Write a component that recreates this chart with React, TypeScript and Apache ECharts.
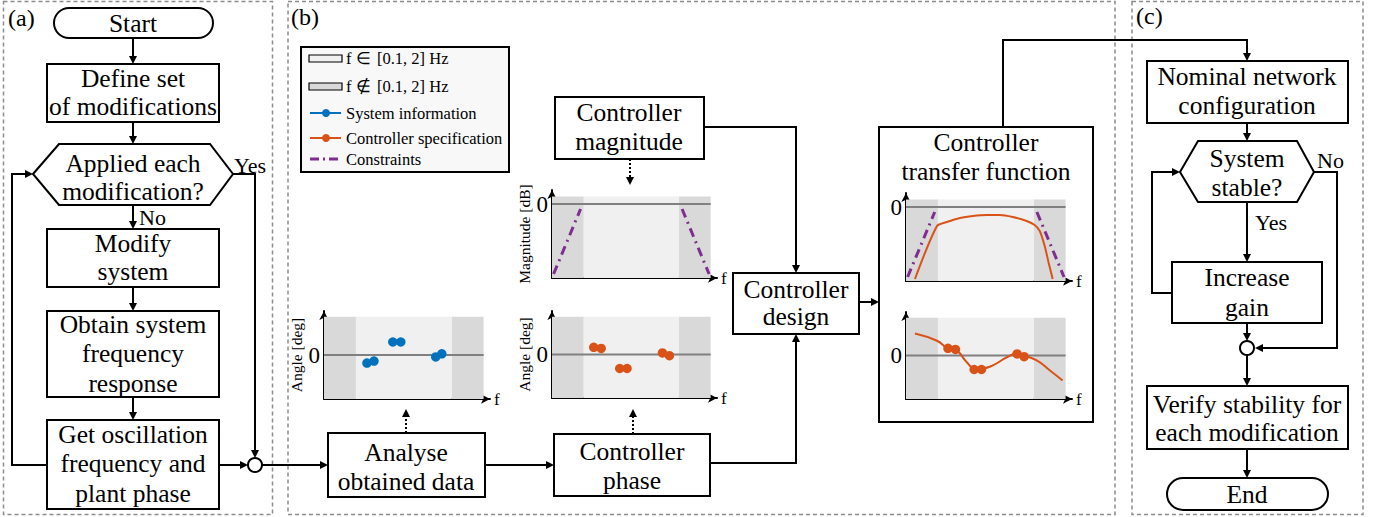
import React, { useEffect, useRef } from "react";
import * as echarts from "echarts";

const FONT = "Liberation Serif";

// Normalised frequency axis: outer bands lie outside [0.1, 2] Hz, inner band inside it.
const bandsOutside: [number, number][] = [
  [0, 2],
  [8, 10],
];
const bandInside: [number, number] = [2, 8];
const freqAxisMax = 10.4;

// Phase plots (angle, normalised)
const angleMin = -1.15;
const angleMax = 1.15;
const angleBandTop = 1.0;
// Magnitude plots (dB, normalised)
const magMin = -7.4;
const magMax = 1.4;
const magBandTop = 0.75;

// Measured plant phase at the oscillation frequencies
const systemInfoPoints: [number, number][] = [
  [2.69, -0.21],
  [3.13, -0.16],
  [4.31, 0.34],
  [4.81, 0.34],
  [7.0, -0.05],
  [7.38, 0.03],
];

// Required controller phase at the same frequencies
const controllerPhasePoints: [number, number][] = [
  [2.63, 0.19],
  [3.1, 0.16],
  [4.27, -0.37],
  [4.73, -0.37],
  [6.96, 0.04],
  [7.4, -0.03],
];

// Magnitude roll-off constraints outside the band
const constraintLow: [number, number][] = [
  [0.1, -7.0],
  [1.8, -0.5],
];
const constraintHigh: [number, number][] = [
  [8.2, -0.5],
  [9.9, -7.0],
];

// Designed controller transfer function
const tfMagnitude: [number, number][] = [
  [0.56, -7.2],
  [1.94, -1.9],
  [2.56, -1.5],
  [3.38, -1.1],
  [4.19, -0.9],
  [5.06, -0.8],
  [5.88, -0.8],
  [6.69, -1.0],
  [7.56, -1.4],
  [8.06, -1.8],
  [8.38, -2.4],
  [8.69, -3.9],
  [8.94, -5.6],
  [9.19, -7.2],
];
const tfPhase: [number, number][] = [
  [0.56, 0.58],
  [1.94, 0.39],
  [2.56, 0.21],
  [3.19, 0.13],
  [3.81, -0.18],
  [4.31, -0.34],
  [4.75, -0.34],
  [5.44, -0.26],
  [6.31, -0.05],
  [6.94, 0.05],
  [7.38, 0.0],
  [8.19, -0.13],
  [9.0, -0.39],
  [9.81, -0.66],
];

const BLUE = "#0072BD";
const ORANGE = "#D95319";
const PURPLE = "#7E2F8E";
const DARK = "#d9d9d9";
const LIGHT = "#f0f0f0";
const LW = 2;
const BOX_FONT = 25.5;
const LEGEND_FONT = 16.5;

type Pt = [number, number];

function box(x: number, y: number, w: number, h: number, r = 0, fill: string | null = "#fff") {
  return {
    type: "rect",
    shape: { x, y, width: w, height: h, r },
    style: { fill: fill === null ? "none" : fill, stroke: "#000", lineWidth: LW },
    z: 10,
  };
}

function label(text: string, x: number, y: number, size = BOX_FONT, align = "center") {
  return {
    type: "text",
    style: {
      text,
      x,
      y,
      fill: "#000",
      fontSize: size,
      fontFamily: FONT,
      textAlign: align,
      textVerticalAlign: "middle",
      align,
      verticalAlign: "middle",
    },
    z: 12,
  };
}

function wire(points: Pt[], dash?: number[]) {
  return {
    type: "polyline",
    shape: { points },
    style: { stroke: "#000", lineWidth: LW, fill: "none", lineDash: dash || null },
    z: 9,
  };
}

function head(x: number, y: number, dir: "up" | "down" | "left" | "right") {
  const L = 8;
  const W = 4;
  let pts: Pt[];
  if (dir === "down") pts = [[x, y], [x - W, y - L], [x + W, y - L]];
  else if (dir === "up") pts = [[x, y], [x - W, y + L], [x + W, y + L]];
  else if (dir === "right") pts = [[x, y], [x - L, y - W], [x - L, y + W]];
  else pts = [[x, y], [x + L, y - W], [x + L, y + W]];
  return { type: "polygon", shape: { points: pts }, style: { fill: "#000" }, z: 11 };
}

// wire ending in an arrowhead at the last point
function arrow(points: Pt[], dash?: number[]) {
  const n = points.length;
  const [tx, ty] = points[n - 1];
  const [px, py] = points[n - 2];
  let dir: "up" | "down" | "left" | "right";
  if (tx === px) dir = ty > py ? "down" : "up";
  else dir = tx > px ? "right" : "left";
  const back = 5;
  const end: Pt =
    dir === "down" ? [tx, ty - back] : dir === "up" ? [tx, ty + back] : dir === "right" ? [tx - back, ty] : [tx + back, ty];
  const pts = points.slice(0, n - 1).concat([end]);
  return [wire(pts, dash), head(tx, ty, dir)];
}

function node(cx: number, cy: number) {
  return {
    type: "circle",
    shape: { cx, cy, r: 7 },
    style: { fill: "#fff", stroke: "#000", lineWidth: LW },
    z: 10,
  };
}

function panel(x: number, y: number, w: number, h: number) {
  return {
    type: "rect",
    shape: { x, y, width: w, height: h },
    style: { fill: "none", stroke: "#8c8c8c", lineWidth: 1.5, lineDash: [4, 3] },
    z: 1,
  };
}

function bandAreas(bottom: number, top: number) {
  const areas: any[] = bandsOutside.map(([a, b]) => [
    { xAxis: a, yAxis: bottom, itemStyle: { color: DARK } },
    { xAxis: b, yAxis: top },
  ]);
  areas.push([
    { xAxis: bandInside[0], yAxis: bottom, itemStyle: { color: LIGHT } },
    { xAxis: bandInside[1], yAxis: top },
  ]);
  return areas;
}

function baseSeries(i: number, bottom: number, top: number) {
  const zeroLine: Pt[] = [
    [bandsOutside[0][0], 0],
    [bandsOutside[1][1], 0],
  ];
  return [
    {
      type: "line",
      xAxisIndex: i,
      yAxisIndex: i,
      data: zeroLine,
      symbol: "none",
      lineStyle: { width: 0, opacity: 0 },
      silent: true,
      z: 1,
      markArea: { silent: true, data: bandAreas(bottom, top) },
    },
    {
      type: "line",
      xAxisIndex: i,
      yAxisIndex: i,
      data: zeroLine,
      symbol: "none",
      lineStyle: { color: "#808080", width: 2 },
      silent: true,
      z: 2,
    },
  ];
}

function dots(i: number, data: Pt[], color: string) {
  return {
    type: "scatter",
    xAxisIndex: i,
    yAxisIndex: i,
    data,
    symbolSize: 9.5,
    itemStyle: { color, opacity: 1 },
    z: 4,
  };
}

function curve(i: number, data: Pt[], color: string, smooth: number | boolean) {
  return {
    type: "line",
    xAxisIndex: i,
    yAxisIndex: i,
    data,
    symbol: "none",
    smooth,
    lineStyle: { color, width: 2 },
    z: 3,
  };
}

function constraint(i: number, data: Pt[]) {
  return {
    type: "line",
    xAxisIndex: i,
    yAxisIndex: i,
    data,
    symbol: "none",
    lineStyle: { color: PURPLE, width: 3, type: [9, 5, 2, 5] },
    z: 3,
  };
}

const grids = [
  { left: 324, top: 311, width: 166, height: 88 }, // system information (angle)
  { left: 552, top: 190, width: 165, height: 88 }, // controller magnitude
  { left: 552, top: 311, width: 165, height: 87 }, // controller phase
  { left: 906, top: 193, width: 166, height: 88 }, // transfer function magnitude
  { left: 906, top: 312, width: 166, height: 87 }, // transfer function phase
];

const yNames = ["Angle [deg]", "Magnitude [dB]", "Angle [deg]", "", ""];
const yKinds = ["angle", "mag", "angle", "mag", "angle"];

function buildOption() {
  const xAxis = grids.map((_, i) => ({
    type: "value",
    gridIndex: i,
    min: 0,
    max: freqAxisMax,
    name: "f",
    nameLocation: "end",
    nameGap: 4,
    nameTextStyle: { fontFamily: FONT, fontSize: 17, color: "#000" },
    axisLine: {
      show: true,
      onZero: false,
      symbol: ["none", "arrow"],
      symbolSize: [7, 9],
      lineStyle: { color: "#000", width: 2 },
    },
    axisTick: { show: false },
    axisLabel: { show: false },
    splitLine: { show: false },
  }));
  const yAxis = grids.map((_, i) => {
    const ang = yKinds[i] === "angle";
    return {
      type: "value",
      gridIndex: i,
      min: ang ? angleMin : magMin,
      max: ang ? angleMax : magMax,
      name: yNames[i],
      nameLocation: "middle",
      nameRotate: 90,
      nameGap: 20,
      nameTextStyle: { fontFamily: FONT, fontSize: 15.5, color: "#000" },
      axisLine: {
        show: true,
        onZero: false,
        symbol: ["none", "arrow"],
        symbolSize: [7, 9],
        lineStyle: { color: "#000", width: 2 },
      },
      axisTick: { show: false },
      axisLabel: {
        show: true,
        customValues: [0],
        fontFamily: FONT,
        fontSize: 23,
        color: "#000",
        margin: 4,
      },
      splitLine: { show: false },
    };
  });

  const series: any[] = [];
  grids.forEach((_, i) => {
    const ang = yKinds[i] === "angle";
    series.push(...baseSeries(i, ang ? angleMin : magMin, ang ? angleBandTop : magBandTop));
  });
  series.push(dots(0, systemInfoPoints, BLUE));
  series.push(constraint(1, constraintLow), constraint(1, constraintHigh));
  series.push(dots(2, controllerPhasePoints, ORANGE));
  series.push(constraint(3, constraintLow), constraint(3, constraintHigh));
  series.push(curve(3, tfMagnitude, ORANGE, 0.25));
  series.push(curve(4, tfPhase, ORANGE, 0.5));
  series.push(dots(4, controllerPhasePoints, ORANGE));

  const el: any[] = [];
  // panels
  el.push(panel(3.5, 1.5, 269, 513), panel(288, 1.5, 827, 513), panel(1132, 1.5, 231, 513));
  el.push(label("(a)", 8, 18, 24, "left"), label("(b)", 291, 17, 24, "left"), label("(c)", 1136, 16, 24, "left"));

  // ---- (a) modification loop
  el.push(box(54, 8, 159, 30, 15), label("Start", 133, 23));
  el.push(...arrow([[133, 38], [133, 64]]));
  el.push(box(47, 64, 172, 58), label("Define set", 133, 78), label("of modifications", 133, 106));
  el.push(...arrow([[133, 122], [133, 144]]));
  el.push({
    type: "polygon",
    shape: { points: [[33, 174], [59, 144], [210, 144], [233, 174], [210, 205], [59, 205]] },
    style: { fill: "#fff", stroke: "#000", lineWidth: LW },
    z: 10,
  });
  el.push(label("Applied each", 133, 163), label("modification?", 133, 191));
  el.push(label("Yes", 234, 165, 22, "left"));
  el.push(...arrow([[133, 205], [133, 229]]));
  el.push(label("No", 139, 217, 22, "left"));
  el.push(box(47, 229, 172, 58), label("Modify", 133, 243), label("system", 133, 271));
  el.push(...arrow([[133, 287], [133, 311]]));
  el.push(
    box(47, 311, 172, 86),
    label("Obtain system", 133, 324),
    label("frequency", 133, 353),
    label("response", 133, 383)
  );
  el.push(...arrow([[133, 397], [133, 420]]));
  el.push(
    box(47, 420, 172, 89),
    label("Get oscillation", 133, 434),
    label("frequency and", 133, 463),
    label("plant phase", 133, 493)
  );
  el.push(...arrow([[47, 465], [12, 465], [12, 174], [33, 174]]));
  el.push(...arrow([[219, 465], [248, 465]]));
  el.push(...arrow([[233, 174], [255, 174], [255, 458]]));
  el.push(node(255, 465));
  el.push(...arrow([[262, 465], [328, 465]]));

  // ---- (b) controller design
  el.push({
    type: "rect",
    shape: { x: 301, y: 47, width: 208, height: 125 },
    style: { fill: "#f8f8f8", stroke: "#000", lineWidth: LW },
    z: 5,
  });
  el.push({
    type: "rect",
    shape: { x: 309, y: 55, width: 33, height: 7 },
    style: { fill: LIGHT, stroke: "#000", lineWidth: 1.2 },
    z: 6,
  });
  el.push({
    type: "rect",
    shape: { x: 309, y: 83, width: 33, height: 7 },
    style: { fill: DARK, stroke: "#000", lineWidth: 1.2 },
    z: 6,
  });
  el.push({
    type: "line",
    shape: { x1: 310, y1: 113, x2: 341, y2: 113 },
    style: { stroke: BLUE, lineWidth: 2 },
    z: 6,
  });
  el.push({ type: "circle", shape: { cx: 326, cy: 113, r: 4 }, style: { fill: BLUE }, z: 7 });
  el.push({
    type: "line",
    shape: { x1: 310, y1: 138, x2: 341, y2: 138 },
    style: { stroke: ORANGE, lineWidth: 2 },
    z: 6,
  });
  el.push({ type: "circle", shape: { cx: 326, cy: 138, r: 4 }, style: { fill: ORANGE }, z: 7 });
  el.push({
    type: "line",
    shape: { x1: 310, y1: 159, x2: 342, y2: 159 },
    style: { stroke: PURPLE, lineWidth: 3, lineDash: [9, 4, 2, 4] },
    z: 6,
  });
  el.push(
    label("f \u2208", 346, 58, LEGEND_FONT, "left"),
    label("[0.1, 2] Hz", 377, 58, LEGEND_FONT, "left"),
    label("f \u2209", 346, 86, LEGEND_FONT, "left"),
    label("[0.1, 2] Hz", 377, 86, LEGEND_FONT, "left"),
    label("System information", 346, 113, LEGEND_FONT, "left"),
    label("Controller specification", 346, 138, LEGEND_FONT, "left"),
    label("Constraints", 346, 159, LEGEND_FONT, "left")
  );

  el.push(box(328, 433, 157, 64), label("Analyse", 406, 452), label("obtained data", 406, 481));
  el.push(...arrow([[406, 433], [406, 409]], [2, 2]));
  el.push(...arrow([[485, 465], [554, 465]]));
  el.push(box(554, 434, 156, 62), label("Controller", 632, 451), label("phase", 632, 480));
  el.push(...arrow([[633, 434], [633, 409]], [2, 2]));

  el.push(box(555, 97, 149, 62), label("Controller", 629, 112), label("magnitude", 629, 141));
  el.push(...arrow([[630, 159], [630, 185]], [2, 2]));
  el.push(...arrow([[704, 127], [796, 127], [796, 273]]));
  el.push(...arrow([[710, 463], [796, 463], [796, 334]]));
  el.push(box(733, 273, 126, 61), label("Controller", 796, 289), label("design", 796, 316));
  el.push(...arrow([[859, 302], [879, 302]]));
  el.push(box(879, 127, 214, 295, 0, null), label("Controller", 986, 142), label("transfer function", 986, 171));
  el.push(...arrow([[1003, 127], [1003, 40], [1247, 40], [1247, 61]]));

  // ---- (c) gain tuning loop
  el.push(box(1147, 61, 201, 62), label("Nominal network", 1247, 76), label("configuration", 1247, 105));
  el.push(...arrow([[1247, 123], [1247, 141]]));
  el.push({
    type: "polygon",
    shape: { points: [[1180, 172], [1198, 141], [1297, 141], [1314, 172], [1297, 202], [1198, 202]] },
    style: { fill: "#fff", stroke: "#000", lineWidth: LW },
    z: 10,
  });
  el.push(label("System", 1247, 158), label("stable?", 1247, 187));
  el.push(label("No", 1317, 160, 22, "left"), label("Yes", 1255, 222, 22, "left"));
  el.push(...arrow([[1247, 202], [1247, 262]]));
  el.push(...arrow([[1314, 172], [1337, 172], [1337, 348], [1255, 348]]));
  el.push(box(1172, 262, 150, 61), label("Increase", 1247, 277), label("gain", 1247, 307));
  el.push(...arrow([[1172, 293], [1152, 293], [1152, 172], [1180, 172]]));
  el.push(...arrow([[1247, 323], [1247, 341]]));
  el.push(node(1247, 348));
  el.push(...arrow([[1247, 355], [1247, 386]]));
  el.push(
    box(1147, 386, 201, 63),
    label("Verify stability for", 1247, 404),
    label("each modification", 1247, 432)
  );
  el.push(...arrow([[1247, 449], [1247, 478]]));
  el.push(box(1167, 478, 161, 32, 16), label("End", 1247, 494));

  return {
    animation: false,
    backgroundColor: "#fff",
    grid: grids.map((g) => ({ ...g, containLabel: false })),
    xAxis,
    yAxis,
    series,
    graphic: { elements: el },
  };
}

export default function App() {
  const ref = useRef<HTMLDivElement>(null);
  useEffect(() => {
    if (!ref.current) return;
    const chart = echarts.init(ref.current, undefined, { renderer: "svg" });
    chart.setOption(buildOption() as any);
    return () => chart.dispose();
  }, []);
  return (
    <div
      ref={ref}
      style={{ position: "fixed", left: 0, top: 0, width: 1384, height: 517, background: "#fff" }}
    />
  );
}
